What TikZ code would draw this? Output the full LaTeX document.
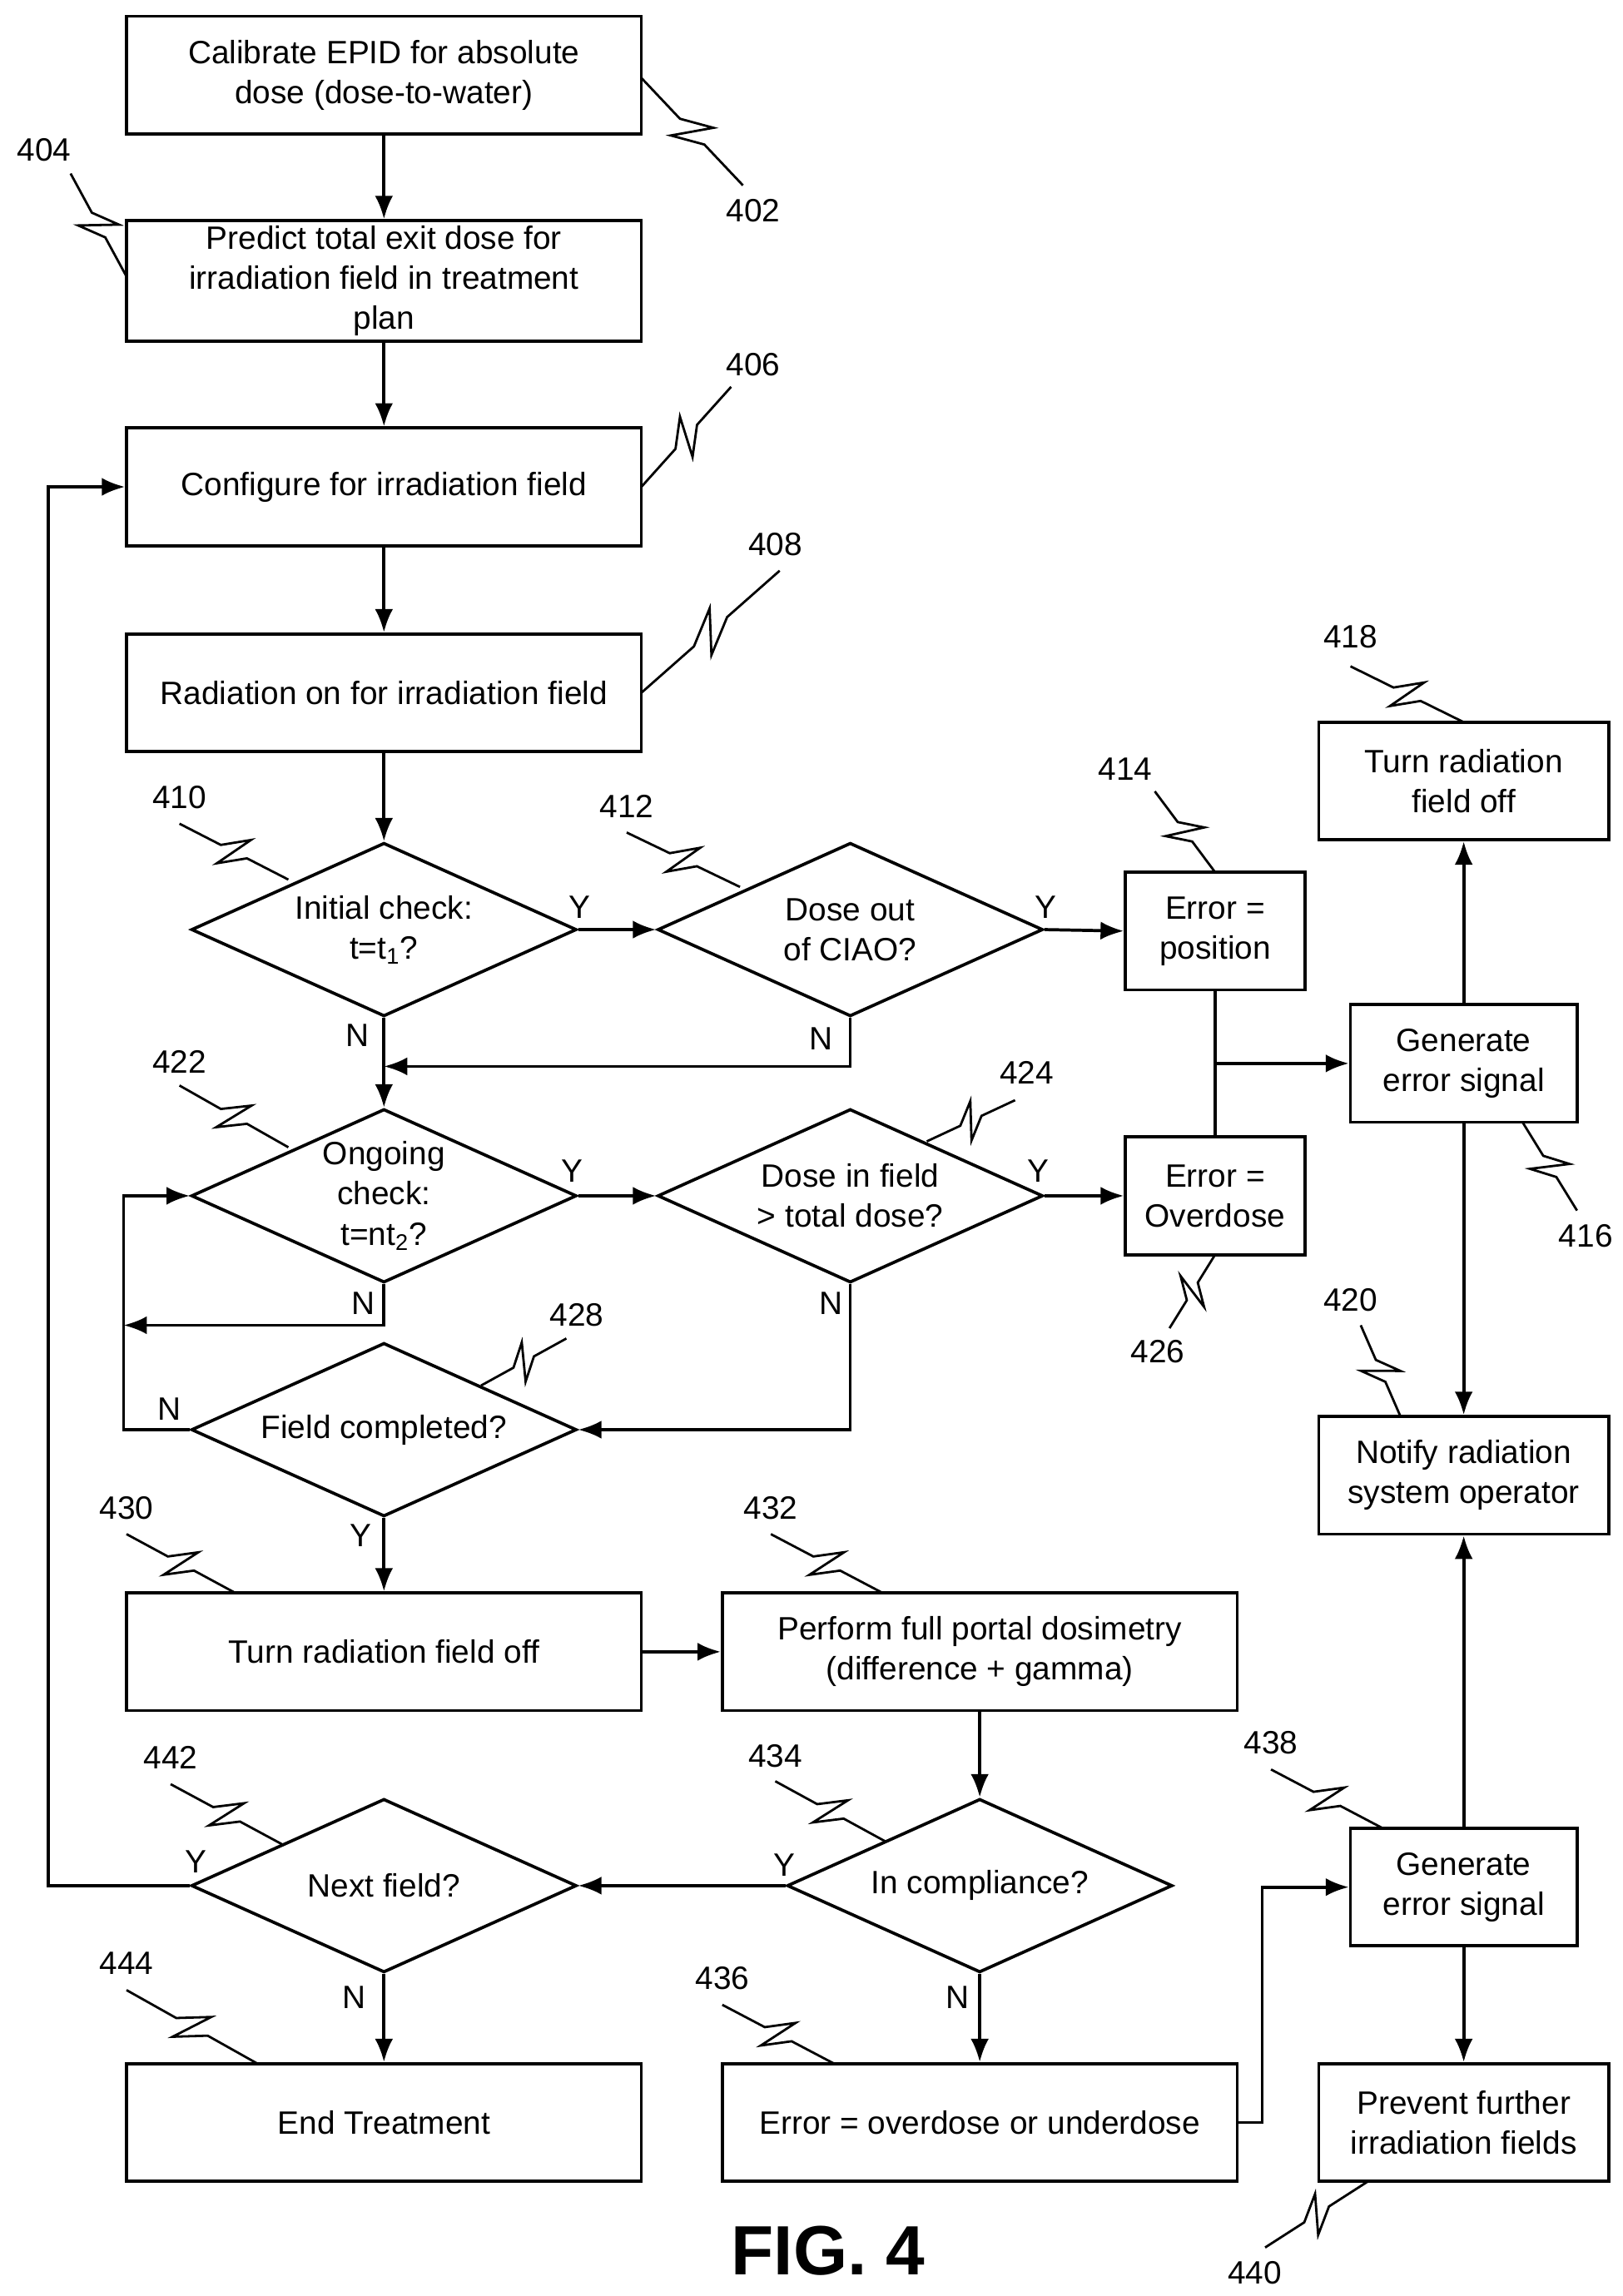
\documentclass[tikz,border=0pt]{standalone}
\usepackage{fontspec}
\setmainfont{Liberation Sans}
\usetikzlibrary{shapes.geometric,calc,arrows.meta}
\begin{document}
\begin{tikzpicture}[x=0.02cm,y=-0.02cm,
 every node/.style={font=\fontsize{12.5}{15.5}\selectfont},
 box/.style={draw,line width=1.2pt,minimum width=7cm,minimum height=1.6cm,align=center,inner sep=2pt},
 dia/.style={draw,diamond,line width=1.2pt,minimum width=5.24cm,minimum height=2.36cm,aspect=2.2,inner sep=0pt,align=center},
 con/.style={line width=1.2pt},
 arr/.style={con,-{Latex[length=9pt,width=7pt]}},
 yn/.style={inner sep=1pt},
 sq/.style={line width=0.9pt}]
\useasboundingbox (0,0) rectangle (1103,1561);
\newcommand\squig[2]{\draw[sq] (#1) -- ($(#1)!0.38!(#2)$) -- ($(#1)!0.58!(#2)!7pt!90:(#2)$) -- ($(#1)!0.42!(#2)!7pt!-90:(#2)$) -- ($(#1)!0.62!(#2)$) -- (#2);}
\node[box] (b402) at (261,51) {Calibrate EPID for absolute\\dose (dose-to-water)};
\node[box] (b404) at (261,191) {Predict total exit dose for\\irradiation field in treatment\\plan};
\node[box] (b406) at (261,331) {Configure for irradiation field};
\node[box] (b408) at (261,471) {Radiation on for irradiation field};
\node[dia] (d410) at (261,632) {Initial check:\\t=t\textsubscript{1}?};
\node[dia] (d412) at (578,632) {Dose out\\of CIAO?};
\node[box,minimum width=2.44cm] (b414) at (826,633) {Error =\\position};
\node[box,minimum width=3.94cm] (b418) at (995,531) {Turn radiation\\field off};
\node[box,minimum width=3.08cm] (b416) at (995,723) {Generate\\error signal};
\node[dia] (d422) at (261,813) {Ongoing\\check:\\t=nt\textsubscript{2}?};
\node[dia] (d424) at (578,813) {Dose in field\\> total dose?};
\node[box,minimum width=2.44cm] (b426) at (826,813) {Error =\\Overdose};
\node[dia] (d428) at (261,972) {Field completed?};
\node[box,minimum width=3.94cm] (b420) at (995,1003) {Notify radiation\\system operator};
\node[box] (b430) at (261,1123) {Turn radiation field off};
\node[box] (b432) at (666,1123) {Perform full portal dosimetry\\(difference + gamma)};
\node[dia] (d442) at (261,1282) {Next field?};
\node[dia] (d434) at (666,1282) {In compliance?};
\node[box,minimum width=3.08cm] (b438) at (995,1283) {Generate\\error signal};
\node[box] (b444) at (261,1443) {End Treatment};
\node[box] (b436) at (666,1443) {Error = overdose or underdose};
\node[box,minimum width=3.94cm] (b440) at (995,1443) {Prevent further\\irradiation fields};
\node[font=\fontsize{27}{29}\selectfont\bfseries] (fig) at (563,1530) {FIG. 4};
\coordinate (j1) at (261,725);
\coordinate (j2) at (84,901);
\coordinate (lx) at (84,972);
\coordinate (j4) at (826,723);
\coordinate (j5) at (858,1443);
\coordinate (j6) at (33,1282);
\draw[arr] (b402) -- (b404);
\draw[arr] (b404) -- (b406);
\draw[arr] (b406) -- (b408);
\draw[arr] (b408) -- (d410);
\draw[arr] (d410.east) -- (d412.west);
\draw[arr] (d412.east) -- (b414.west);
\draw[arr] (d410.south) -- (d422.north);
\draw[arr] (d412.south) |- (j1);
\draw[con] (b414.south) -- (b426.north);
\draw[arr] (j4) -- (b416.west);
\draw[arr] (b416) -- (b418);
\draw[arr] (b416) -- (b420);
\draw[arr] (d422.east) -- (d424.west);
\draw[arr] (d424.east) -- (b426.west);
\draw[arr] (d422.south) |- (j2);
\draw[arr] (d428.west) -- (lx) |- (d422.west);
\draw[arr] (d424.south) |- (d428.east);
\draw[arr] (d428.south) -- (b430.north);
\draw[arr] (b430) -- (b432);
\draw[arr] (b432.south) -- (d434.north);
\draw[arr] (d434.west) -- (d442.east);
\draw[arr] (d434.south) -- (b436.north);
\draw[arr] (b436.east) -- (j5) |- (b438.west);
\draw[arr] (b438) -- (b420);
\draw[arr] (b438) -- (b440);
\draw[arr] (d442.west) -- (j6) |- (b406.west);
\draw[arr] (d442.south) -- (b444.north);
\node[yn] at (394,617) {Y};
\node[yn] at (711,617) {Y};
\node[yn] at (243,704) {N};
\node[yn] at (558,706) {N};
\node[yn] at (389,796) {Y};
\node[yn] at (706,796) {Y};
\node[yn] at (247,886) {N};
\node[yn] at (565,886) {N};
\node[yn] at (115,958) {N};
\node[yn] at (245,1044) {Y};
\node[yn] at (533,1268) {Y};
\node[yn] at (133,1266) {Y};
\node[yn] at (651,1358) {N};
\node[yn] at (241,1358) {N};
\node (n402) at (512,143) {402}; \squig{436,53}{505,126}
\node (n404) at (30,102) {404}; \squig{48,118}{86,188}
\node (n406) at (512,248) {406}; \squig{436,331}{497,263}
\node (n408) at (527,370) {408}; \squig{436,471}{530,388}
\node (n410) at (122,542) {410}; \squig{122,560}{196,598}
\node (n412) at (426,548) {412}; \squig{426,566}{503,603}
\node (n414) at (765,523) {414}; \squig{785,538}{826,593}
\node (n418) at (918,433) {418}; \squig{918,453}{995,491}
\node (n416) at (1078,840) {416}; \squig{1072,823}{1035,763}
\node (n422) at (122,722) {422}; \squig{122,738}{196,780}
\node (n424) at (698,729) {424}; \squig{690,748}{630,776}
\node (n426) at (787,919) {426}; \squig{795,903}{826,853}
\node (n428) at (392,894) {428}; \squig{385,910}{327,942}
\node (n420) at (918,884) {420}; \squig{925,901}{952,963}
\node (n430) at (86,1025) {430}; \squig{86,1043}{160,1083}
\node (n432) at (524,1025) {432}; \squig{524,1043}{600,1083}
\node (n442) at (116,1195) {442}; \squig{116,1213}{192,1254}
\node (n434) at (527,1194) {434}; \squig{527,1211}{602,1252}
\node (n438) at (864,1185) {438}; \squig{864,1203}{940,1243}
\node (n444) at (86,1335) {444}; \squig{86,1353}{175,1403}
\node (n436) at (491,1345) {436}; \squig{491,1363}{567,1403}
\node (n440) at (853,1545) {440}; \squig{860,1528}{930,1483}
\end{tikzpicture}
\end{document}
